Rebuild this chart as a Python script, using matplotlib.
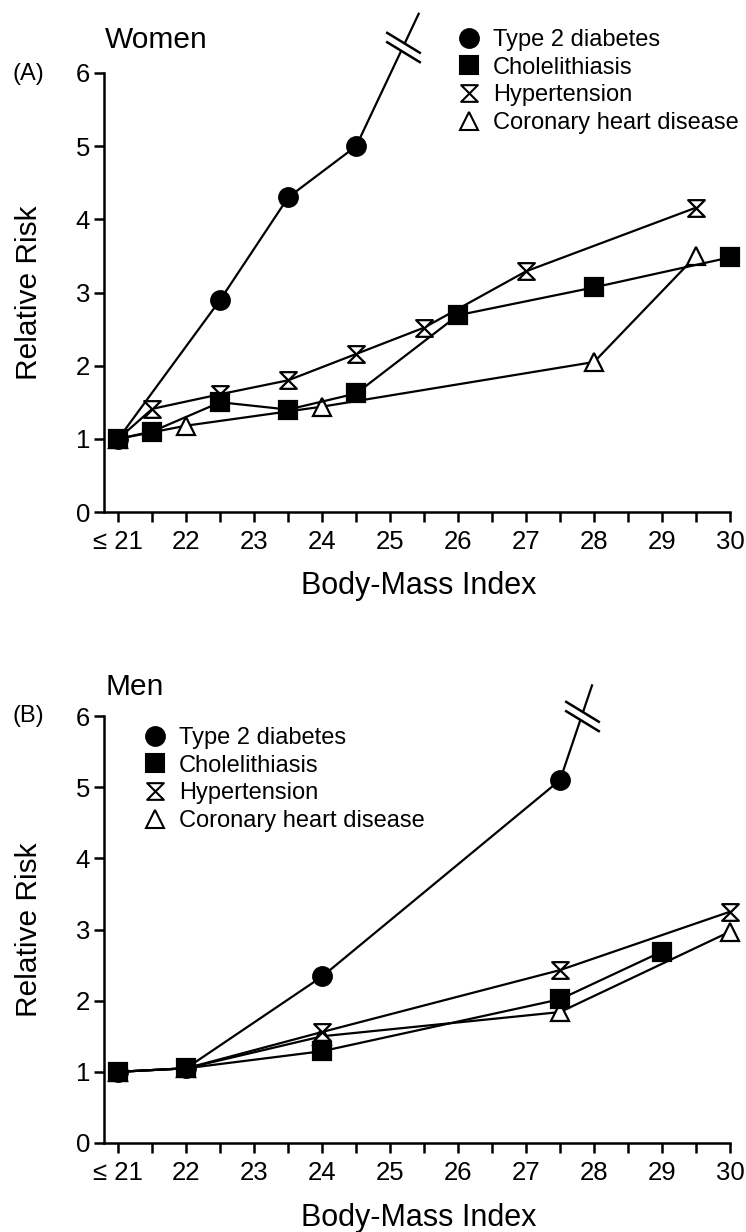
import numpy as np
import matplotlib.pyplot as plt
from matplotlib.path import Path
from matplotlib.lines import Line2D

plt.rcParams['font.family'] = ['Liberation Sans', 'DejaVu Sans']

# x axis: body-mass index categories
bmi_ticks = [21, 22, 23, 24, 25, 26, 27, 28, 29, 30]
bmi_labels = ['≤ 21', '22', '23', '24', '25', '26', '27', '28', '29', '30']
rr_ticks = [0, 1, 2, 3, 4, 5, 6]

series_names = ['Type 2 diabetes', 'Cholelithiasis', 'Hypertension',
                'Coronary heart disease']

# Women (A)
w_dm_x = [21, 22.5, 23.5, 24.5]
w_dm_y = [1.0, 2.9, 4.3, 5.0]
w_dm_tail = (25.42, 6.81)   # line leaves the scale here
w_dm_break = 6.35
w_chole_x = [21, 21.5, 22.5, 23.5, 24.5, 26, 28, 30]
w_chole_y = [1.0, 1.1, 1.5, 1.4, 1.62, 2.69, 3.07, 3.48]
w_htn_x = [21, 21.5, 22.5, 23.5, 24.5, 25.5, 27, 29.5]
w_htn_y = [1.0, 1.41, 1.61, 1.8, 2.16, 2.52, 3.29, 4.16]
w_chd_x = [21, 22, 24, 28, 29.5]
w_chd_y = [1.0, 1.18, 1.44, 2.05, 3.5]

# Men (B)
m_dm_x = [21, 22, 24, 27.5]
m_dm_y = [1.0, 1.05, 2.34, 5.1]
m_dm_tail = (27.97, 6.43)
m_dm_break = 6.0
m_chole_x = [21, 22, 24, 27.5, 29]
m_chole_y = [1.0, 1.05, 1.29, 2.02, 2.69]
m_htn_x = [21, 22, 24, 27.5, 30]
m_htn_y = [1.0, 1.05, 1.56, 2.43, 3.25]
m_chd_x = [21, 22, 24, 27.5, 30]
m_chd_y = [1.0, 1.05, 1.5, 1.84, 2.97]

# hourglass marker
hourglass = Path([(-1, 1), (1, 1), (-1, -1), (1, -1), (-1, 1)],
                 [Path.MOVETO, Path.LINETO, Path.LINETO, Path.LINETO, Path.CLOSEPOLY])
# axis-break symbol: two parallel strokes + white gap between them
o = 0.27
brk_lines = Path([(-1, 0.61 + o), (1, -0.61 + o), (-1, 0.61 - o), (1, -0.61 - o)],
                 [Path.MOVETO, Path.LINETO, Path.MOVETO, Path.LINETO])
brk_gap = Path([(-1, 0.61 + o), (1, -0.61 + o), (1, -0.61 - o), (-1, 0.61 - o), (-1, 0.61 + o)],
               [Path.MOVETO, Path.LINETO, Path.LINETO, Path.LINETO, Path.CLOSEPOLY])

styles = {
    'dm': dict(marker='o', ms=13.5, mfc='black', mec='black'),
    'chole': dict(marker='s', ms=12.5, mfc='black', mec='black'),
    'htn': dict(marker=hourglass, ms=12, mfc='white', mec='black'),
    'chd': dict(marker='^', ms=13, mfc='white', mec='black'),
}

fig = plt.figure(figsize=(7.46, 12.32), dpi=100)
ax_w = fig.add_axes([104 / 746, 1 - 512 / 1232, 626 / 746, 439 / 1232])
ax_m = fig.add_axes([104 / 746, 1 - 1143 / 1232, 626 / 746, 427 / 1232])


def draw_panel(ax, dm, dm_tail, dm_break, chole, htn, chd):
    # diabetes line carries on past the top of the scale
    ax.plot(dm[0] + [dm_tail[0]], dm[1] + [dm_tail[1]], color='black', lw=1.6,
            clip_on=False, zorder=2)
    ax.plot(dm[0], dm[1], ls='none', mew=1.5, clip_on=False, zorder=2, **styles['dm'])
    bx = np.interp(dm_break, [dm[1][-1], dm_tail[1]], [dm[0][-1], dm_tail[0]])
    ax.plot([bx], [dm_break], marker=brk_gap, ms=25, mfc='white', mec='none',
            ls='none', clip_on=False, zorder=3)
    ax.plot([bx], [dm_break], marker=brk_lines, ms=25, mfc='none', mec='black',
            mew=1.8, ls='none', clip_on=False, zorder=4)
    for key, (xs, ys), z in [('chd', chd, 2.2), ('htn', htn, 2.4), ('chole', chole, 2.6)]:
        ax.plot(xs, ys, color='black', lw=1.6, mew=1.6, clip_on=False, zorder=z,
                **styles[key])

    ax.set_xlim(20.79, 30)
    ax.set_ylim(0, 6)
    for side in ['top', 'right']:
        ax.spines[side].set_visible(False)
    for side in ['left', 'bottom']:
        ax.spines[side].set_linewidth(1.8)
    ax.set_xticks(bmi_ticks)
    ax.set_xticklabels(bmi_labels)
    ax.set_xticks(np.arange(21.5, 30, 1.0), minor=True)
    ax.set_yticks(rr_ticks)
    ax.tick_params(axis='both', which='both', direction='out', length=7, width=1.8,
                   labelsize=18.5, pad=3)
    ax.tick_params(axis='x', which='major', pad=6)
    ax.set_ylabel('Relative Risk', fontsize=21.5)
    ax.yaxis.set_label_coords(-0.098, 0.5)
    ax.set_xlabel('Body-Mass Index', fontsize=22)


draw_panel(ax_w, (w_dm_x, w_dm_y), w_dm_tail, w_dm_break,
           (w_chole_x, w_chole_y), (w_htn_x, w_htn_y), (w_chd_x, w_chd_y))
draw_panel(ax_m, (m_dm_x, m_dm_y), m_dm_tail, m_dm_break,
           (m_chole_x, m_chole_y), (m_htn_x, m_htn_y), (m_chd_x, m_chd_y))
ax_w.xaxis.set_label_coords(0.503, -0.135)
ax_m.xaxis.set_label_coords(0.503, -0.14)

# panel titles
fig.text(105 / 746, 1 - 48 / 1232, 'Women', fontsize=21.5, va='baseline')
fig.text(105 / 746, 1 - 695 / 1232, 'Men', fontsize=21.5, va='baseline')
fig.text(28 / 746, 1 - 74 / 1232, '(A)', fontsize=17, ha='center', va='center')
fig.text(28 / 746, 1 - 716 / 1232, '(B)', fontsize=17, ha='center', va='center')

# legends
handles = [Line2D([], [], ls='none', mew=1.5, **styles[k])
           for k in ['dm', 'chole', 'htn', 'chd']]
for ax, anchor in [(ax_w, (457 / 746, 1 - 29 / 1232)), (ax_m, (143 / 746, 1 - 727 / 1232))]:
    ax.legend(handles, series_names, loc='upper left', bbox_to_anchor=anchor,
              bbox_transform=fig.transFigure, frameon=False, fontsize=17,
              handlelength=1.0, handletextpad=0.53, labelspacing=0.24,
              borderpad=0, borderaxespad=0, numpoints=1)

fig.savefig('out.png', dpi=100)
